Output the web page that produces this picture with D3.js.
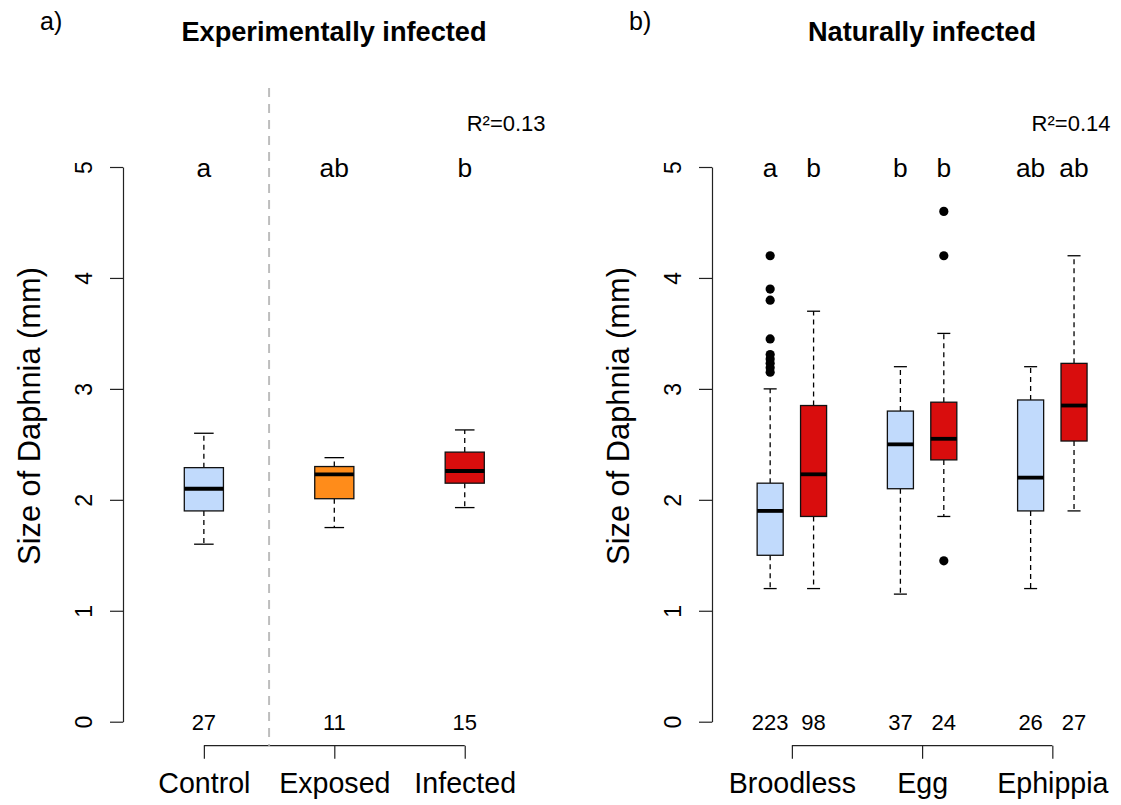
<!DOCTYPE html>
<html>
<head>
<meta charset="utf-8">
<script src="https://cdn.jsdelivr.net/npm/d3@7"></script>
<style>
  body { margin: 0; background: #fff; }
  svg, svg text { font-family: "Liberation Sans", Arial, Helvetica, sans-serif; }
</style>
</head>
<body>
<div class="chart"></div>
<script>
// a) experimentally infected
const expCategories = ["Control", "Exposed", "Infected"];
const expLower = [1.60, 1.75, 1.93];
const expQ1 = [1.90, 2.01, 2.15];
const expMedian = [2.10, 2.23, 2.26];
const expQ3 = [2.29, 2.30, 2.43];
const expUpper = [2.60, 2.38, 2.63];
const expN = [27, 11, 15];
const expLetters = ["a", "ab", "b"];
const expColors = ["#c1dafc", "#ff8c1a", "#d90d0d"];

// b) naturally infected (uninfected / infected within each stage)
const natStages = ["Broodless", "Egg", "Ephippia"];
const natLower = [1.20, 1.20, 1.15, 1.85, 1.20, 1.90];
const natQ1 = [1.50, 1.85, 2.10, 2.36, 1.90, 2.53];
const natMedian = [1.90, 2.23, 2.50, 2.55, 2.20, 2.85];
const natQ3 = [2.15, 2.85, 2.80, 2.88, 2.90, 3.23];
const natUpper = [3.00, 3.70, 3.20, 3.50, 3.20, 4.20];
const natOutliers = [
  [3.15, 3.19, 3.23, 3.27, 3.31, 3.45, 3.80, 3.90, 4.20],
  [], [], [1.45, 4.20, 4.60], [], []
];
const natN = [223, 98, 37, 24, 26, 27];
const natLetters = ["a", "b", "b", "b", "ab", "ab"];
const natColors = ["#c1dafc", "#d90d0d", "#c1dafc", "#d90d0d", "#c1dafc", "#d90d0d"];

const yTicks = [0, 1, 2, 3, 4, 5];

const font = '"Liberation Sans", Arial, Helvetica, sans-serif';
const width = 1121;
const height = 805;
const svg = d3
  .select(".chart")
  .append("svg")
  .attr("width", width)
  .attr("height", height);

const y = d3.scaleLinear().domain([0, 5]).range([721.7, 167]);

function panel(opts) {
  const x = opts.x;
  const g = svg.append("g");
  const boxes = opts.pos.map((p, i) => ({
    pos: p,
    lo: opts.lower[i],
    q1: opts.q1[i],
    med: opts.median[i],
    q3: opts.q3[i],
    hi: opts.upper[i],
    out: opts.outliers ? opts.outliers[i] : [],
    n: opts.n[i],
    letter: opts.letters[i],
    fill: opts.colors[i]
  }));
  const hw = opts.halfWidth;

  // y axis
  const axisX = x.range()[0];
  const ax = g
    .append("g")
    .attr("transform", `translate(${axisX},0)`)
    .call(
      d3.axisLeft(y)
        .tickValues(yTicks)
        .tickFormat(d3.format("d"))
        .tickSize(13)
        .tickSizeOuter(0)
    )
    .attr("font-family", font);
  ax.selectAll("path, line").attr("stroke", "#222").attr("stroke-width", 1.2);
  ax.selectAll("text")
    .attr("x", null)
    .attr("dy", null)
    .attr("text-anchor", "middle")
    .attr("font-size", 23)
    .attr("fill", "#000")
    .attr("transform", "translate(-31.5,0) rotate(-90)");

  g.append("text")
    .attr("transform", `translate(${axisX - 83},416) rotate(-90)`)
    .attr("text-anchor", "middle")
    .attr("font-size", 30.8)
    .text("Size of Daphnia (mm)");

  const bg = g.selectAll("g.box").data(boxes).enter().append("g").attr("class", "box");

  // whiskers
  bg.append("line")
    .attr("x1", (d) => x(d.pos)).attr("x2", (d) => x(d.pos))
    .attr("y1", (d) => y(d.q3)).attr("y2", (d) => y(d.hi))
    .attr("stroke", "#000").attr("stroke-width", 1.3).attr("stroke-dasharray", "5,4");
  bg.append("line")
    .attr("x1", (d) => x(d.pos)).attr("x2", (d) => x(d.pos))
    .attr("y1", (d) => y(d.q1)).attr("y2", (d) => y(d.lo))
    .attr("stroke", "#000").attr("stroke-width", 1.3).attr("stroke-dasharray", "5,4");
  // staples
  bg.append("line")
    .attr("x1", (d) => x(d.pos - hw / 2)).attr("x2", (d) => x(d.pos + hw / 2))
    .attr("y1", (d) => y(d.hi)).attr("y2", (d) => y(d.hi))
    .attr("stroke", "#000").attr("stroke-width", 1.3);
  bg.append("line")
    .attr("x1", (d) => x(d.pos - hw / 2)).attr("x2", (d) => x(d.pos + hw / 2))
    .attr("y1", (d) => y(d.lo)).attr("y2", (d) => y(d.lo))
    .attr("stroke", "#000").attr("stroke-width", 1.3);
  // box
  bg.append("rect")
    .attr("x", (d) => x(d.pos - hw))
    .attr("width", (d) => x(d.pos + hw) - x(d.pos - hw))
    .attr("y", (d) => y(d.q3))
    .attr("height", (d) => y(d.q1) - y(d.q3))
    .attr("fill", (d) => d.fill)
    .attr("stroke", "#111")
    .attr("stroke-width", 1.3);
  // median
  bg.append("line")
    .attr("x1", (d) => x(d.pos - hw)).attr("x2", (d) => x(d.pos + hw))
    .attr("y1", (d) => y(d.med)).attr("y2", (d) => y(d.med))
    .attr("stroke", "#000").attr("stroke-width", 3.8);
  // outliers
  bg.selectAll("circle")
    .data((d) => d.out.map((v) => ({ pos: d.pos, v: v })))
    .enter()
    .append("circle")
    .attr("cx", (d) => x(d.pos))
    .attr("cy", (d) => y(d.v))
    .attr("r", 4.6)
    .attr("fill", "#000");

  // letters and sample sizes
  bg.append("text")
    .attr("x", (d) => x(d.pos))
    .attr("y", y(5))
    .attr("dy", "0.36em")
    .attr("text-anchor", "middle")
    .attr("font-size", 26.4)
    .text((d) => d.letter);
  bg.append("text")
    .attr("x", (d) => x(d.pos))
    .attr("y", y(0))
    .attr("dy", "0.36em")
    .attr("text-anchor", "middle")
    .attr("font-size", 22)
    .text((d) => d.n);

  // category axis (bracket)
  const first = x(opts.groupAt[0]);
  const last = x(opts.groupAt[opts.groupAt.length - 1]);
  const bx = g
    .append("g")
    .attr("transform", "translate(0,745.7)")
    .call(
      d3.axisBottom(x)
        .tickValues(opts.groupAt)
        .tickFormat((d, i) => opts.groups[i])
        .tickSize(13)
        .tickSizeOuter(0)
    )
    .attr("font-family", font);
  bx.select(".domain").attr("d", `M${first},0H${last}`);
  bx.selectAll("path, line").attr("stroke", "#222").attr("stroke-width", 1.2);
  bx.selectAll("text")
    .attr("y", 27)
    .attr("font-size", 28.6)
    .attr("fill", "#000");

  // R squared
  g.append("text")
    .attr("x", x.range()[1])
    .attr("y", 131)
    .attr("text-anchor", "end")
    .attr("font-size", 22)
    .text(opts.r2);

  // title and panel tag
  g.append("text")
    .attr("x", opts.titleX)
    .attr("y", 41)
    .attr("text-anchor", "middle")
    .attr("font-size", 27.2)
    .attr("font-weight", "bold")
    .text(opts.title);
  g.append("text")
    .attr("x", opts.tagX)
    .attr("y", 30)
    .attr("font-size", 25)
    .text(opts.tag);

  return g;
}

const xExp = d3.scaleLinear().domain([0.38, 3.62]).range([123, 545.6]);
const left = panel({
  x: xExp,
  pos: [1, 2, 3],
  halfWidth: 0.15,
  lower: expLower, q1: expQ1, median: expMedian, q3: expQ3, upper: expUpper,
  n: expN, letters: expLetters, colors: expColors,
  groups: expCategories, groupAt: [1, 2, 3],
  r2: "R²=0.13",
  title: "Experimentally infected", titleX: 334,
  tag: "a)", tagX: 40
});

// dashed separator between control and exposed
left.append("line")
  .attr("x1", xExp(1.5)).attr("x2", xExp(1.5))
  .attr("y1", 88).attr("y2", 745.7)
  .attr("stroke", "#bdbdbd")
  .attr("stroke-width", 2)
  .attr("stroke-dasharray", "9,7");

const xNat = d3.scaleLinear().domain([-0.34, 8.84]).range([712, 1110.5]);
panel({
  x: xNat,
  pos: [1, 2, 4, 5, 7, 8],
  halfWidth: 0.3,
  lower: natLower, q1: natQ1, median: natMedian, q3: natQ3, upper: natUpper,
  outliers: natOutliers,
  n: natN, letters: natLetters, colors: natColors,
  groups: natStages, groupAt: [1.5, 4.5, 7.5],
  r2: "R²=0.14",
  title: "Naturally infected", titleX: 922,
  tag: "b)", tagX: 629
});
</script>
</body>
</html>
